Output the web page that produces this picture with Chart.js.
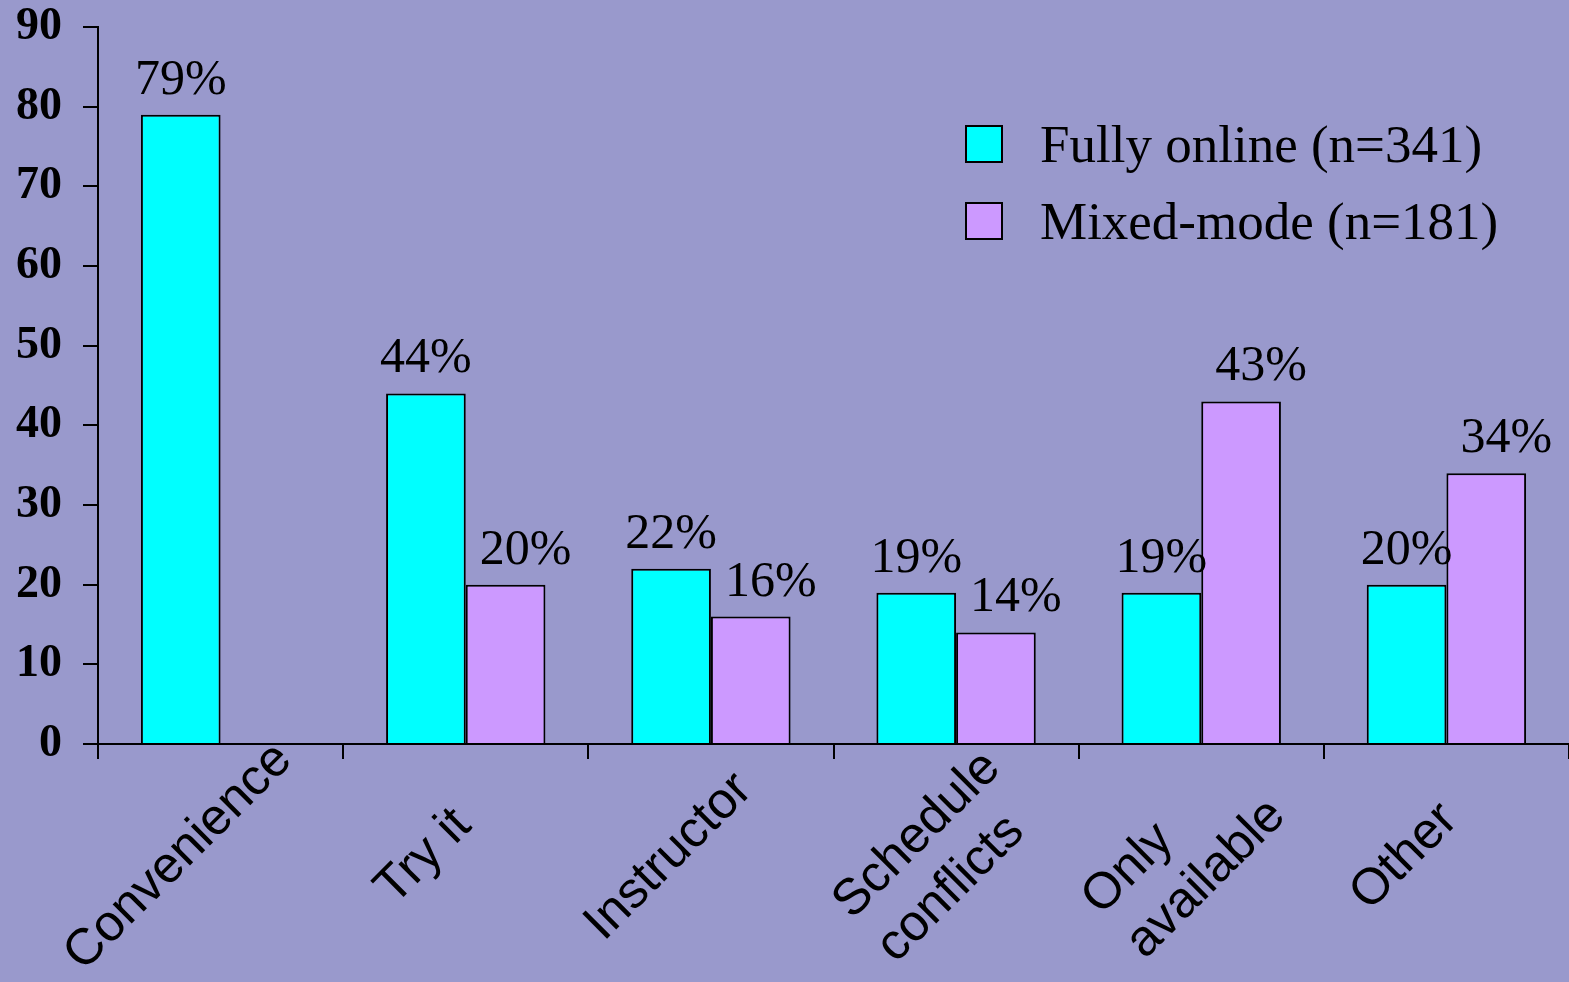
<!DOCTYPE html>
<html>
<head>
<meta charset="utf-8">
<script src="https://cdn.jsdelivr.net/npm/chart.js@4.4.1/dist/chart.umd.min.js"></script>
<style>
  html, body { margin: 0; padding: 0; background: #9999cc; overflow: hidden; }
  #wrap { position: relative; width: 1569px; height: 982px; }
  #legend { position: absolute; left: 965px; top: 125px; font-family: "Liberation Serif", "Times New Roman", serif; font-size: 53px; color: #000; }
  #legend .row { display: flex; align-items: center; height: 38px; margin-bottom: 39px; }
  #legend .box { width: 34px; height: 34px; border: 2px solid #000; margin-right: 37px; flex: none; }
  #legend .txt { line-height: 38px; white-space: nowrap; }
</style>
</head>
<body>
<div id="wrap">
  <canvas id="chart" width="1569" height="982"></canvas>
  <div id="legend"></div>
</div>
<script>
  // Reasons for choosing the course format, % of respondents
  const categories = ['Convenience', 'Try it', 'Instructor', ['Schedule', 'conflicts'], ['Only', 'available'], 'Other'];
  const fullyOnline = [79, 44, 22, 19, 19, 20];
  const mixedMode = [null, 20, 16, 14, 43, 34];
  const seriesNames = ['Fully online (n=341)', 'Mixed-mode (n=181)'];
  const seriesColors = ['#00ffff', '#cc99ff'];
  const yTicks = { min: 0, max: 90, step: 10 };

  const serif = '"Liberation Serif", "Times New Roman", serif';
  const sans = '"Liberation Sans", Arial, sans-serif';

  // value labels "NN%" above each bar; the second series' labels sit a bit to the right
  const labelShift = [0, 20];
  const valueLabels = {
    id: 'valueLabels',
    afterDatasetsDraw(chart) {
      const ctx = chart.ctx;
      ctx.save();
      ctx.font = '50px ' + serif;
      ctx.fillStyle = '#000';
      ctx.textAlign = 'center';
      ctx.textBaseline = 'alphabetic';
      chart.data.datasets.forEach((ds, di) => {
        chart.getDatasetMeta(di).data.forEach((bar, i) => {
          const v = ds.data[i];
          if (v == null) return;
          ctx.fillText(v + '%', bar.x + labelShift[di], bar.y - 21);
        });
      });
      ctx.restore();
    }
  };

  // slanted category names, each block centred under its category
  const slantLabels = {
    id: 'slantLabels',
    afterDraw(chart) {
      const ctx = chart.ctx;
      const xs = chart.scales.x;
      const lh = 62;
      ctx.save();
      ctx.font = '51px ' + sans;
      ctx.fillStyle = '#000';
      ctx.textAlign = 'left';
      ctx.textBaseline = 'middle';
      chart.data.labels.forEach((lab, i) => {
        const lines = Array.isArray(lab) ? lab : [lab];
        const w = Math.max(...lines.map(l => ctx.measureText(l).width));
        const cx = xs.getPixelForValue(i) - 42 + (lines.length - 1) * 25;
        const cy = 857;
        ctx.save();
        ctx.translate(cx, cy);
        ctx.rotate(-Math.PI / 4);
        lines.forEach((l, j) => {
          ctx.fillText(l, -w / 2, (j - (lines.length - 1) / 2) * lh);
        });
        ctx.restore();
      });
      ctx.restore();
    }
  };

  const chart = new Chart(document.getElementById('chart'), {
    type: 'bar',
    data: {
      labels: categories,
      datasets: [
        { label: seriesNames[0], data: fullyOnline, backgroundColor: seriesColors[0], borderColor: '#000', borderWidth: 2 },
        { label: seriesNames[1], data: mixedMode, backgroundColor: seriesColors[1], borderColor: '#000', borderWidth: 2 }
      ]
    },
    options: {
      responsive: false,
      devicePixelRatio: 1,
      animation: false,
      layout: { padding: { top: 27, right: 0, bottom: 0, left: 0 } },
      datasets: { bar: { categoryPercentage: 0.65, barPercentage: 1 } },
      plugins: { legend: { display: false }, tooltip: { enabled: false } },
      scales: {
        x: {
          offset: true,
          grid: { offset: true, drawOnChartArea: false, tickLength: 15, color: '#000', lineWidth: 2 },
          border: { color: '#000', width: 2 },
          ticks: { display: false },
          afterFit: s => { s.height = 238; s.paddingLeft = 0; s.paddingRight = 0; }
        },
        y: {
          min: yTicks.min, max: yTicks.max,
          grid: { drawOnChartArea: false, tickLength: 15, color: '#000', lineWidth: 2 },
          border: { color: '#000', width: 2 },
          ticks: { stepSize: yTicks.step, color: '#000', padding: 21, font: { family: serif, size: 46, weight: 'bold', lineHeight: 1.17 } },
          afterFit: s => { s.width = 98; s.paddingTop = 0; s.paddingBottom = 0; }
        }
      }
    },
    plugins: [valueLabels, slantLabels]
  });

  // legend built from the datasets
  document.getElementById('legend').innerHTML = chart.data.datasets.map(ds => `
    <div class="row"><div class="box" style="background:${ds.backgroundColor}"></div><div class="txt">${ds.label}</div></div>
  `).join('');
</script>
</body>
</html>
